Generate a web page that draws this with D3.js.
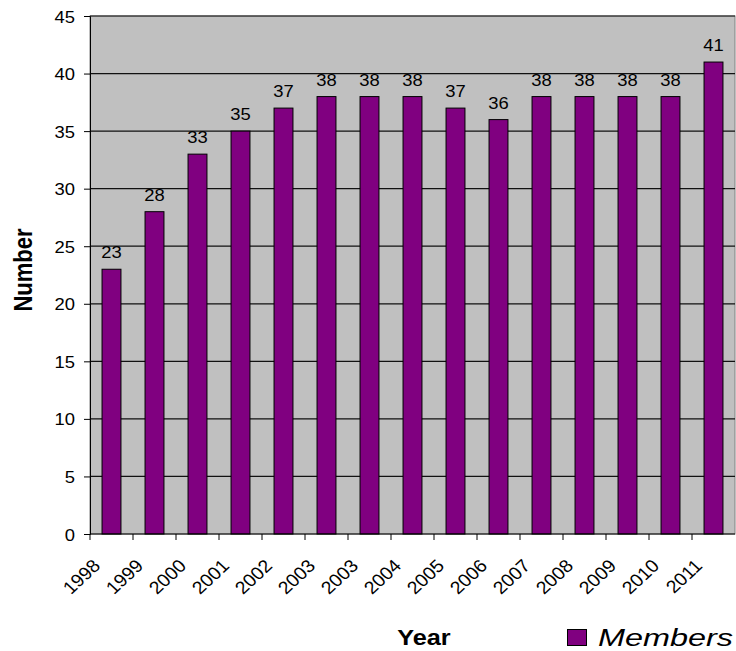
<!DOCTYPE html>
<html><head><meta charset="utf-8">
<script src="https://cdn.jsdelivr.net/npm/d3@7/dist/d3.min.js"></script>
<style>body{margin:0;background:#fff}svg{display:block}text{font-family:"Liberation Sans",Arial,sans-serif}</style>
</head><body>
<script>
const years = ["1998","1999","2000","2001","2002","2003","2003","2004","2005","2006","2007","2008","2009","2010","2011"];
const members = [23,28,33,35,37,38,38,38,37,36,38,38,38,38,41];
const yTicks = [0,5,10,15,20,25,30,35,40,45];
const seriesName = "Members";

const W = 736, H = 651;
const SX = 1.15;
const m = {left: 90, right: 1, top: 16, bottom: 117};
const svg = d3.select("body").append("svg").attr("width", W).attr("height", H);

const x = d3.scaleBand().domain(years.map((d,i)=>i)).range([m.left, W - m.right]).paddingInner(0.56).paddingOuter(0.28);
const y = d3.scaleLinear().domain([0,45]).range([H - m.bottom, m.top]);

// plot area
svg.append("rect").attr("x", m.left).attr("y", m.top).attr("width", W - m.right - m.left).attr("height", y(0) - m.top)
  .attr("fill", "#C0C0C0").attr("stroke", "#808080");

// gridlines
svg.append("g").selectAll("line").data(yTicks.filter(t => t > 0)).join("line")
  .attr("x1", m.left).attr("x2", W - m.right).attr("y1", d => y(d)).attr("y2", d => y(d))
  .attr("stroke", "#111").attr("stroke-width", 1.2);

// bars
svg.append("g").selectAll("rect").data(members).join("rect")
  .attr("x", (d,i) => x(i)).attr("width", x.bandwidth())
  .attr("y", d => y(d)).attr("height", d => y(0) - y(d))
  .attr("fill", "#800080").attr("stroke", "#000").attr("stroke-width", 1);

// value labels
svg.append("g").selectAll("text").data(members).join("text")
  .attr("transform", (d,i) => `translate(${x(i) + x.bandwidth()/2},${y(d) - 11}) scale(${SX},1)`)
  .attr("text-anchor", "middle").attr("font-size", 16).attr("fill", "#000").text(d => d);

// y axis
const yAxis = svg.append("g").attr("transform", `translate(${m.left},0)`)
  .call(d3.axisLeft(y).tickValues(yTicks).tickSize(6).tickPadding(0).tickFormat(d3.format("d")));
yAxis.select(".domain").attr("stroke", "#000");
yAxis.selectAll(".tick line").attr("stroke", "#000");
yAxis.selectAll(".tick text").attr("x", null).attr("dy", null)
  .attr("transform", `translate(-15,6) scale(${SX},1)`)
  .attr("font-size", 16).attr("fill", "#000").attr("font-family", '"Liberation Sans",Arial,sans-serif');

// x axis
const step = x.step();
const xAxis = svg.append("g").attr("transform", `translate(0,${y(0)})`);
xAxis.append("line").attr("x1", m.left).attr("x2", W - m.right).attr("stroke", "#000");
xAxis.selectAll("line.tk").data(d3.range(years.length)).join("line").attr("class","tk")
  .attr("x1", i => x(i) - (step - x.bandwidth())/2).attr("x2", i => x(i) - (step - x.bandwidth())/2)
  .attr("y1", 0).attr("y2", 6).attr("stroke", "#000");
xAxis.selectAll("text").data(years).join("text")
  .attr("transform", (d,i) => `translate(${x(i) + x.bandwidth()/2 - 10},${33}) scale(1.08,1) rotate(-45)`)
  .attr("text-anchor", "end").attr("font-size", 18).attr("fill", "#000").text(d => d);

// axis titles
svg.append("text").attr("transform", `translate(32,270) scale(${SX},1) rotate(-90)`)
  .attr("text-anchor", "middle").attr("font-size", 22).attr("font-weight", "bold").text("Number");
svg.append("text").attr("transform", `translate(424,645) scale(${SX},1)`)
  .attr("text-anchor", "middle").attr("font-size", 22).attr("font-weight", "bold").text("Year");

// legend
const lg = svg.append("g");
lg.append("rect").attr("x", 567.5).attr("y", 629.5).attr("width", 19).attr("height", 16)
  .attr("fill", "#800080").attr("stroke", "#000");
lg.append("text").attr("x", 598).attr("y", 646).attr("font-size", 24).attr("font-style", "italic")
  .attr("textLength", 135).attr("lengthAdjust", "spacingAndGlyphs").text(seriesName);
</script>
</body></html>
